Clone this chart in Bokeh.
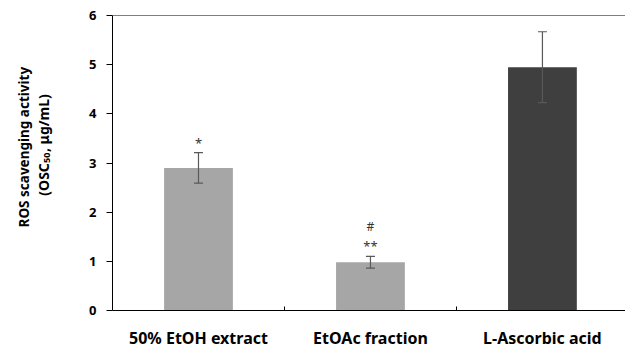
import math
from bokeh.plotting import figure
from bokeh.layouts import row
from bokeh.models import Range1d, FixedTicker, Whisker, TeeHead, ColumnDataSource, Span
from bokeh.embed import file_html
from bokeh.resources import INLINE
from bokeh.core.properties import value

categories = ["50% EtOH extract", "EtOAc fraction", "L-Ascorbic acid"]
means = [2.90, 0.98, 4.95]
errors = [0.31, 0.12, 0.72]
marks = ["*", "**", ""]
marks2 = ["", "#", ""]
y_ticks = [0, 1, 2, 3, 4, 5, 6]
title_line1 = "ROS scavenging activity"
title_line2 = ["(OSC", "50", ",  \u03bcg/mL)"]

bar_colors = ["#a6a6a6", "#a6a6a6", "#3f3f3f"]
FONT = "Noto Sans"
W, H = 625, 351
LW = 70  # width of the side panel holding the y-axis title
TOP, BOTTOM = 15, 38

xpos = [i + 0.5 for i in range(len(categories))]
src = ColumnDataSource(dict(
    x=xpos, top=means, color=bar_colors,
    upper=[m + e for m, e in zip(means, errors)],
    lower=[m - e for m, e in zip(means, errors)],
    m1=marks, m2=marks2,
))

p = figure(width=W - LW, height=H, output_backend="svg", toolbar_location=None,
           x_range=Range1d(0, 2.983), y_range=Range1d(0, 6),
           min_border_left=112 - LW, min_border_right=0, min_border_top=TOP,
           min_border_bottom=BOTTOM)
p.outline_line_color = None
p.grid.visible = False
p.background_fill_color = "white"
p.border_fill_color = "white"

p.vbar(x="x", top="top", width=0.4, color="color", line_color=None, source=src)

w = Whisker(base="x", upper="upper", lower="lower", source=src, level="overlay",
            line_color="#595959", line_width=1.2,
            upper_head=TeeHead(size=9, line_color="#595959", line_width=1.2),
            lower_head=TeeHead(size=9, line_color="#595959", line_width=1.2))
p.add_layout(w)

p.text(x="x", y="upper", text="m1", source=src, text_align="center",
       text_baseline="middle", y_offset=-10, text_font=value(FONT),
       text_font_size="13px", text_color="#333333")
p.text(x="x", y="upper", text="m2", source=src, text_align="center",
       text_baseline="middle", y_offset=-30, text_font=value(FONT),
       text_font_size="12px", text_color="#333333")

p.add_layout(Span(location=6, dimension="width", line_color="black", line_width=1))

xa = p.xaxis[0]
xa.ticker = FixedTicker(ticks=xpos, minor_ticks=[1, 2])
xa.major_label_overrides = {x: c for x, c in zip(xpos, categories)}
xa.major_tick_in = 0
xa.major_tick_out = 0
xa.minor_tick_in = 4
xa.minor_tick_out = 0
xa.axis_line_color = "black"
xa.major_label_text_font = FONT
xa.major_label_text_font_style = "bold"
xa.major_label_text_font_size = "16px"
xa.major_label_text_color = "black"
xa.major_label_standoff = 16

ya = p.yaxis[0]
ya.ticker = FixedTicker(ticks=y_ticks)
ya.minor_tick_line_color = None
ya.major_tick_in = 0
ya.major_tick_out = 6
ya.axis_line_color = "black"
ya.major_label_text_font = FONT
ya.major_label_text_font_style = "bold"
ya.major_label_text_font_size = "13px"
ya.major_label_text_color = "black"
ya.major_label_standoff = 10

# side panel with the two-line rotated y-axis title; its frame is aligned with
# the main frame (screen y 15..313), so map data y = H - screen y
t = figure(width=LW, height=H, output_backend="svg", toolbar_location=None,
           x_range=Range1d(0, LW), y_range=Range1d(BOTTOM, H - TOP),
           min_border_left=0, min_border_right=0,
           min_border_top=TOP, min_border_bottom=BOTTOM)
t.axis.visible = False
t.grid.visible = False
t.outline_line_color = None
t.background_fill_color = "white"
t.border_fill_color = "white"
ang = math.pi / 2
common = dict(angle=ang, text_baseline="middle", text_font=value(FONT),
              text_font_style="bold", text_color="black")
t.text(x=[23], y=[H - 148], text=[title_line1], text_align="center",
       text_font_size="13.5px", **common)
t.text(x=[43], y=[H - 197], text=[title_line2[0]], text_align="left",
       text_font_size="14px", **common)
t.text(x=[46], y=[H - 164], text=[title_line2[1]], text_align="left",
       text_font_size="9px", **common)
t.text(x=[43], y=[H - 153], text=[title_line2[2]], text_align="left",
       text_font_size="14px", **common)

layout = row(t, p, spacing=0)
open("out.html", "w").write(file_html(layout, INLINE))
